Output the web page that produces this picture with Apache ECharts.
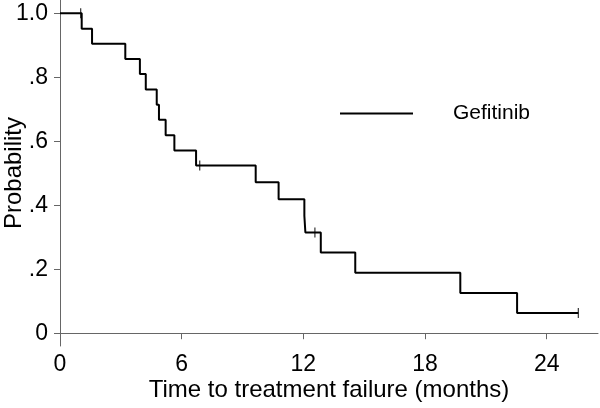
<!DOCTYPE html>
<html>
<head>
<meta charset="utf-8">
<script src="https://cdn.jsdelivr.net/npm/echarts@6/dist/echarts.min.js"></script>
<style>html,body{margin:0;padding:0;background:#fff}#c{width:600px;height:408px}</style>
</head>
<body>
<div id="c"></div>
<script>
// Kaplan-Meier step curve (time in months, survival probability)
var times = [0, 1.07, 1.58, 3.22, 3.94, 4.23, 4.77, 4.88, 5.21, 5.64, 6.71, 9.65, 10.78, 12.05, 12.10, 12.86, 14.56, 19.74, 22.54, 25.56];
var surv  = [1.0, 0.952, 0.905, 0.857, 0.810, 0.762, 0.714, 0.667, 0.619, 0.571, 0.524, 0.472, 0.419, 0.367, 0.315, 0.252, 0.189, 0.126, 0.063, 0.063];
// censored observations
var censorTimes = [1.02, 6.89, 12.57, 25.56];
var censorSurv  = [1.0, 0.524, 0.315, 0.063];
var xTicks = [0, 6, 12, 18, 24];
var yTicks = [0, 0.2, 0.4, 0.6, 0.8, 1.0];
var yTickLabels = ['0', '.2', '.4', '.6', '.8', '1.0'];
var seriesName = 'Gefitinib';

var kmData = times.map(function (t, i) { return [t, surv[i]]; });
var censorData = censorTimes.map(function (t, i) { return [t, censorSurv[i]]; });

var font = 'Liberation Sans, Arial, sans-serif';
var chart = echarts.init(document.getElementById('c'), null, {renderer: 'canvas'});
chart.setOption({
  animation: false,
  backgroundColor: '#fff',
  grid: {left: 60, right: 2, top: 0, bottom: 62, containLabel: false, outerBoundsMode: 'none'},
  legend: {
    data: [seriesName],
    left: 340, top: 103,
    padding: 0,
    icon: 'rect',
    itemWidth: 73, itemHeight: 2,
    textStyle: {fontSize: 21, color: '#000', fontFamily: font, padding: [0, 0, 0, 35]}
  },
  xAxis: {
    type: 'value', min: 0, max: 26.53, interval: 6,
    name: 'Time to treatment failure (months)',
    nameLocation: 'middle', nameGap: 32, nameMoveOverlap: false,
    nameTextStyle: {fontSize: 24, color: '#000', fontFamily: font},
    axisLine: {lineStyle: {color: '#666', width: 1}},
    axisTick: {show: true, length: 6, lineStyle: {color: '#666'}, customValues: xTicks},
    axisLabel: {fontSize: 23, color: '#000', fontFamily: font, margin: 7, customValues: xTicks},
    splitLine: {show: false}
  },
  yAxis: {
    type: 'value', min: -0.04, max: 1.0416,
    name: 'Probability',
    nameLocation: 'middle', nameGap: 34, nameMoveOverlap: false,
    nameTextStyle: {fontSize: 24, color: '#000', fontFamily: font},
    axisLine: {show: true, lineStyle: {color: '#666', width: 1}},
    axisTick: {show: true, length: 6, lineStyle: {color: '#666'}, customValues: yTicks},
    axisLabel: {
      fontSize: 23, color: '#000', fontFamily: font, margin: 12, customValues: yTicks,
      formatter: function (v) {
        for (var i = 0; i < yTicks.length; i++) { if (Math.abs(v - yTicks[i]) < 1e-6) return yTickLabels[i]; }
        return '';
      }
    },
    splitLine: {show: false}
  },
  series: [
    {
      name: seriesName, type: 'line', step: 'end', data: kmData,
      symbol: 'none', showSymbol: false,
      lineStyle: {color: '#000', width: 2},
      itemStyle: {color: '#000'}
    },
    {
      name: 'censored', type: 'scatter', data: censorData,
      symbol: 'rect', symbolSize: [1.2, 10],
      itemStyle: {color: '#000'}
    }
  ]
});
</script>
</body>
</html>
